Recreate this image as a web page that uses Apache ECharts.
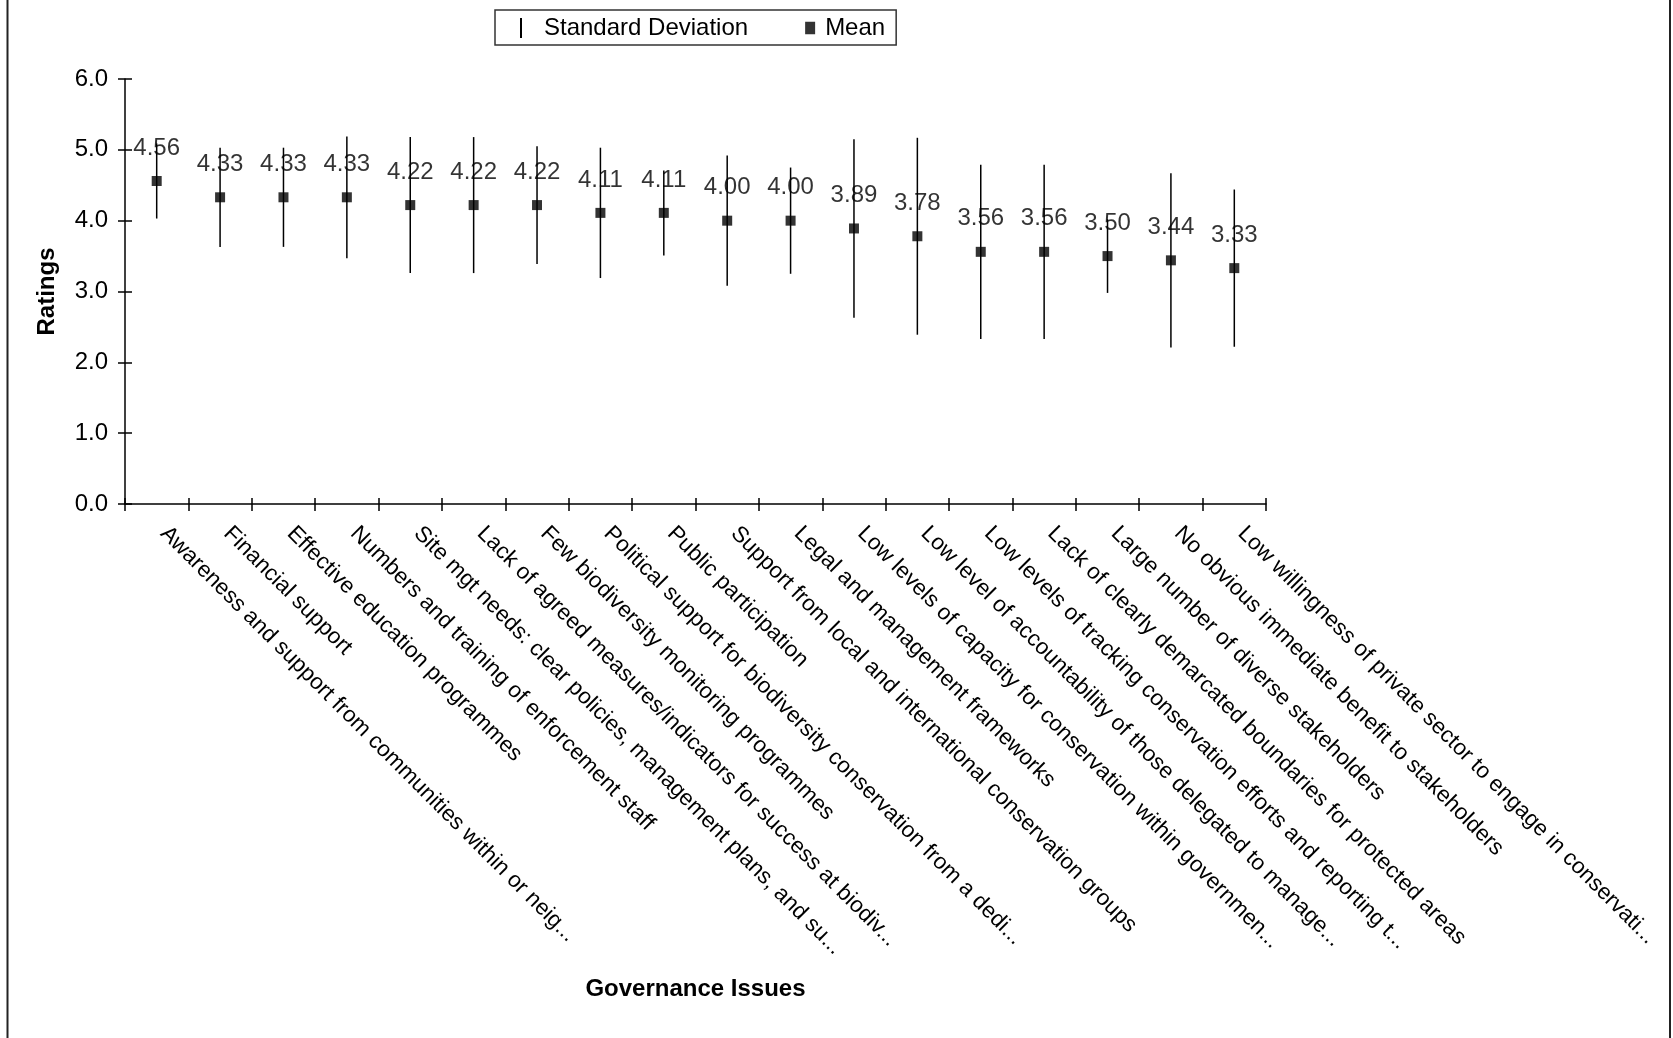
<!DOCTYPE html>
<html lang="en">
<style>
  #container {
    width: 1673px;
    height: 1038px;
  }

  body {
    margin: 0;
    background: #fff;
  }
</style>

<head>
  <meta charset="UTF-8">
  <script src="https://cdn.jsdelivr.net/npm/echarts@6/dist/echarts.min.js"></script>
</head>

<body>
  <div id="container"></div>
  <script>
    var issues = [
      'Awareness and support from communities within or neig...',
      'Financial support',
      'Effective education programmes',
      'Numbers and training of enforcement staff',
      'Site mgt needs: clear policies, management plans, and su...',
      'Lack of agreed measures/indicators for success at biodiv...',
      'Few biodiversity monitoring programmes',
      'Political support for biodiversity conservation from a dedi...',
      'Public participation',
      'Support from local and international conservation groups',
      'Legal and management frameworks',
      'Low levels of capacity for conservation within governmen...',
      'Low level of accountability of those delegated to manage...',
      'Low levels of tracking conservation efforts and reporting t...',
      'Lack of clearly demarcated boundaries for protected areas',
      'Large number of diverse stakeholders',
      'No obvious immediate benefit to stakeholders',
      'Low willingness of private sector to engage in conservati...'
    ];
    var means = [4.56, 4.33, 4.33, 4.33, 4.22, 4.22, 4.22, 4.11, 4.11, 4.00, 4.00, 3.89, 3.78, 3.56, 3.56, 3.50, 3.44, 3.33];
    var stdDevs = [0.53, 0.70, 0.70, 0.86, 0.96, 0.96, 0.83, 0.92, 0.60, 0.92, 0.75, 1.26, 1.39, 1.23, 1.23, 0.52, 1.23, 1.11];

    var fontName = 'Liberation Sans, Arial, sans-serif';

    // [index, low, high] for the error bars
    var sdData = [];
    for (var i = 0; i < means.length; i++) {
      sdData.push([i, means[i] - stdDevs[i], means[i] + stdDevs[i]]);
    }

    var myChart = echarts.init(document.getElementById('container'));

    var option = {
      animation: false,
      textStyle: { fontFamily: fontName, color: '#000' },
      grid: { left: 125, right: 407, top: 79, bottom: 534 },
      legend: {
        left: 495,
        top: 10,
        padding: [6, 11, 5, 25],
        borderColor: '#333',
        borderWidth: 1.5,
        itemWidth: 10,
        itemHeight: 20,
        itemGap: 57,
        textStyle: { fontSize: 24, color: '#000', fontFamily: fontName },
        data: [
          {
            name: 'Standard Deviation', icon: 'path://M0,0h2v20h-2z', itemStyle: { color: '#000' },
            textStyle: { padding: [0, 0, 0, 13] }
          },
          {
            name: 'Mean', icon: 'path://M0,0h8v10h-8z', itemStyle: { color: '#000' },
            textStyle: { padding: [0, 0, 0, 5] }
          }
        ]
      },
      xAxis: [{
        type: 'category',
        data: issues,
        name: 'Governance Issues',
        nameLocation: 'middle',
        nameGap: 473,
        nameTextStyle: { fontSize: 24, fontWeight: 'bold', color: '#000' },
        axisLine: { lineStyle: { color: '#000', width: 1.5 } },
        axisTick: { show: true, interval: 0, length: 7, lineStyle: { color: '#000', width: 1.5 } },
        axisLabel: {
          rotate: -45,
          interval: 0,
          margin: 19,
          padding: [0, 0, 0, 10],
          fontSize: 22.5,
          color: '#000'
        }
      }, {
        type: 'category',
        data: issues,
        position: 'bottom',
        axisLine: { show: false },
        axisTick: { show: true, interval: 0, inside: true, length: 6, lineStyle: { color: '#000', width: 1.5 } },
        axisLabel: { show: false }
      }],
      yAxis: [{
        type: 'value',
        min: 0,
        max: 6,
        interval: 1,
        name: 'Ratings',
        nameLocation: 'middle',
        nameGap: 66,
        nameTextStyle: { fontSize: 24, fontWeight: 'bold', color: '#000' },
        splitLine: { show: false },
        axisLine: { show: true, lineStyle: { color: '#000', width: 1.5 } },
        axisTick: { show: true, length: 7, lineStyle: { color: '#000', width: 1.5 } },
        axisLabel: {
          margin: 17,
          fontSize: 24,
          color: '#000',
          formatter: function (v) { return v.toFixed(1); }
        }
      }, {
        type: 'value',
        min: 0,
        max: 6,
        interval: 1,
        position: 'left',
        splitLine: { show: false },
        axisLine: { show: false },
        axisTick: { show: true, inside: true, length: 7, lineStyle: { color: '#000', width: 1.5 } },
        axisLabel: { show: false }
      }],
      graphic: [
        { type: 'line', shape: { x1: 7.5, y1: 0, x2: 7.5, y2: 1038 }, style: { stroke: '#222', lineWidth: 2 } },
        { type: 'line', shape: { x1: 1670, y1: 0, x2: 1670, y2: 1038 }, style: { stroke: '#222', lineWidth: 2 } }
      ],
      series: [
        {
          name: 'Standard Deviation',
          type: 'custom',
          data: sdData,
          z: 2,
          renderItem: function (params, api) {
            var lo = api.coord([api.value(0), api.value(1)]);
            var hi = api.coord([api.value(0), api.value(2)]);
            return {
              type: 'line',
              shape: { x1: lo[0], y1: lo[1], x2: hi[0], y2: hi[1] },
              style: { stroke: '#000', lineWidth: 1.5 }
            };
          }
        },
        {
          name: 'Mean',
          type: 'scatter',
          data: means,
          symbol: 'rect',
          symbolSize: 10,
          z: 3,
          itemStyle: { color: '#000' },
          label: {
            show: true,
            position: 'top',
            distance: 16,
            fontSize: 24,
            color: '#000',
            formatter: function (p) { return p.value.toFixed(2); }
          }
        }
      ]
    };

    myChart.setOption(option);
  </script>
</body>

</html>
